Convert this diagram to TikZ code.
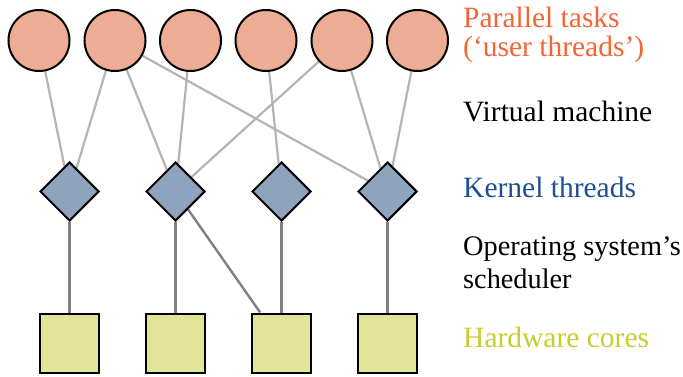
\documentclass[tikz,border=0pt]{standalone}
\usepackage{fontspec}
\setmainfont{Liberation Serif}
\usetikzlibrary{shapes.geometric,backgrounds}
\definecolor{taskfill}{HTML}{EDAD94}
\definecolor{kernfill}{HTML}{8EA3BC}
\definecolor{corefill}{HTML}{E2E497}
\definecolor{tasktext}{HTML}{F26535}
\definecolor{kerntext}{HTML}{1F4E8F}
\definecolor{coretext}{HTML}{C9CC2B}
\definecolor{lightlink}{HTML}{B4B4B4}
\definecolor{darklink}{HTML}{808080}
\tikzset{
  task/.style={circle, draw=black, line width=2pt, fill=taskfill, minimum size=61pt, inner sep=0pt},
  kthread/.style={diamond, aspect=1, draw=black, line width=2pt, fill=kernfill, minimum size=59pt, inner sep=0pt},
  core/.style={rectangle, draw=black, line width=2pt, fill=corefill, minimum size=59pt, inner sep=0pt},
  vmlink/.style={draw=lightlink, line width=2.2pt},
  oslink/.style={draw=darklink, line width=2.4pt},
  label/.style={anchor=base west, align=left, inner sep=0pt, font=\fontsize{29.5}{29}\selectfont}
}
\begin{document}
\begin{tikzpicture}[x=1pt, y=-1pt]
\useasboundingbox (0,0) rectangle (683,377);

% user-level tasks
\node[task] (t1) at (39,40.5) {};
\node[task] (t2) at (115,40.5) {};
\node[task] (t3) at (190.5,40.5) {};
\node[task] (t4) at (266,40.5) {};
\node[task] (t5) at (342,40.5) {};
\node[task] (t6) at (417.5,40.5) {};

% kernel threads
\node[kthread] (k1) at (69.5,191.5) {};
\node[kthread] (k2) at (175.5,191.5) {};
\node[kthread] (k3) at (281.5,191.5) {};
\node[kthread] (k4) at (387.5,191.5) {};

% hardware cores
\node[core] (c1) at (69.5,343) {};
\node[core] (c2) at (175.5,343) {};
\node[core] (c3) at (281.5,343) {};
\node[core] (c4) at (387.5,343) {};

\begin{pgfonlayer}{background}
  % virtual machine mapping
  \draw[vmlink] (t1) -- (k1);
  \draw[vmlink] (t2) -- (k1);
  \draw[vmlink] (t2) -- (k2);
  \draw[vmlink] (t2) -- (k4);
  \draw[vmlink] (t3) -- (k2);
  \draw[vmlink] (t4) -- (k3);
  \draw[vmlink] (t5) -- (k2);
  \draw[vmlink] (t5) -- (k4);
  \draw[vmlink] (t6) -- (k4);
  % OS scheduler mapping
  \draw[oslink] (k1) -- (c1);
  \draw[oslink] (k2) -- (c2);
  \draw[oslink] (k2) -- (c3);
  \draw[oslink] (k3) -- (c3);
  \draw[oslink] (k4) -- (c4);
\end{pgfonlayer}

% layer captions (base anchor sits on the last line)
\node[label, text=tasktext] (lt) at (463,57) {Parallel tasks\\(‘user threads’)};
\node[label] (lv) at (463,122) {Virtual machine};
\node[label, text=kerntext] (lk) at (463,197) {Kernel threads};
\node[label, font=\fontsize{28.3}{33}\selectfont] (lo) at (463,288) {Operating system’s\\scheduler};
\node[label, text=coretext] (lc) at (463,347) {Hardware cores};
\end{tikzpicture}
\end{document}
